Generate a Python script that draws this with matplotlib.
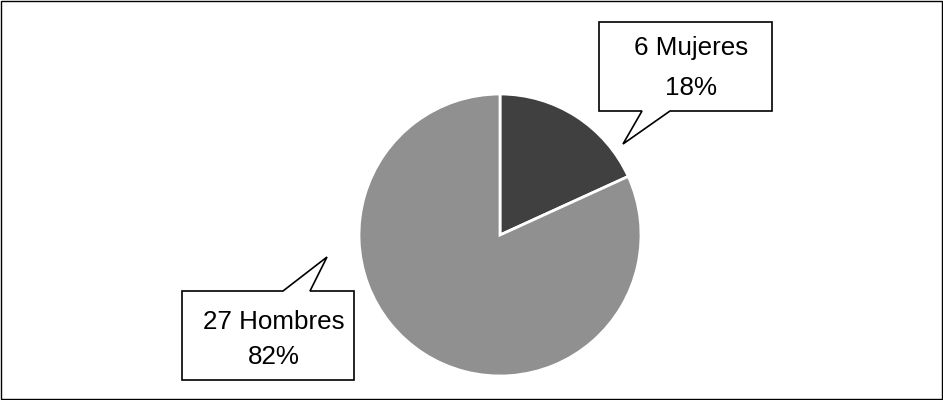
import matplotlib.pyplot as plt
from matplotlib.patches import Polygon, Rectangle

plt.rcParams['font.family'] = ['Liberation Sans', 'DejaVu Sans']

# Gender split of the group
labels = ['Mujeres', 'Hombres']
counts = [6, 27]
colors = ['#404040', '#909090']

W, H = 943, 400
fig = plt.figure(figsize=(W / 100, H / 100), dpi=100)
ax = fig.add_axes([0, 0, 1, 1])
ax.set_aspect('equal')

# outer frame
ax.add_patch(Rectangle((1, 1), W - 2, H - 2, fill=False, edgecolor='black', linewidth=1))

total = sum(counts)
ax.pie(counts, colors=colors, startangle=90, counterclock=False,
       center=(500, 165), radius=141, frame=True,
       wedgeprops=dict(edgecolor='white', linewidth=2))
ax.set_xlim(0, W)
ax.set_ylim(0, H)
ax.axis('off')


def callout(box, base, tip, text_lines, text_x):
    x0, y0, x1, y1 = box
    pts = [(x0, y1), (x1, y1), (x1, y0), (base[1], y0), tip, (base[0], y0), (x0, y0)]
    if tip[1] > y1:
        pts = [(x0, y0), (x1, y0), (x1, y1), (base[1], y1), tip, (base[0], y1), (x0, y1)]
    ax.add_patch(Polygon(pts, closed=True, facecolor='white', edgecolor='black',
                         linewidth=1.2, zorder=5))
    for txt, ty in text_lines:
        ax.text(text_x, ty, txt, ha='center', va='center', fontsize=18.7, zorder=6)


# Mujeres label, pointer going down-left to the slice
n, c = counts[0], labels[0]
callout((599, H - 111, 772, H - 22), (642, 670), (623, H - 144),
        [(f'{n} {c}', H - 48), (f'{n / total:.0%}', H - 88)], 691)

# Hombres label, pointer going up-right to the slice
n, c = counts[1], labels[1]
callout((182, H - 380, 354, H - 291), (283, 310), (327, H - 257),
        [(f'{n} {c}', H - 322), (f'{n / total:.0%}', H - 357)], 274)

fig.savefig('out.png', dpi=100)
